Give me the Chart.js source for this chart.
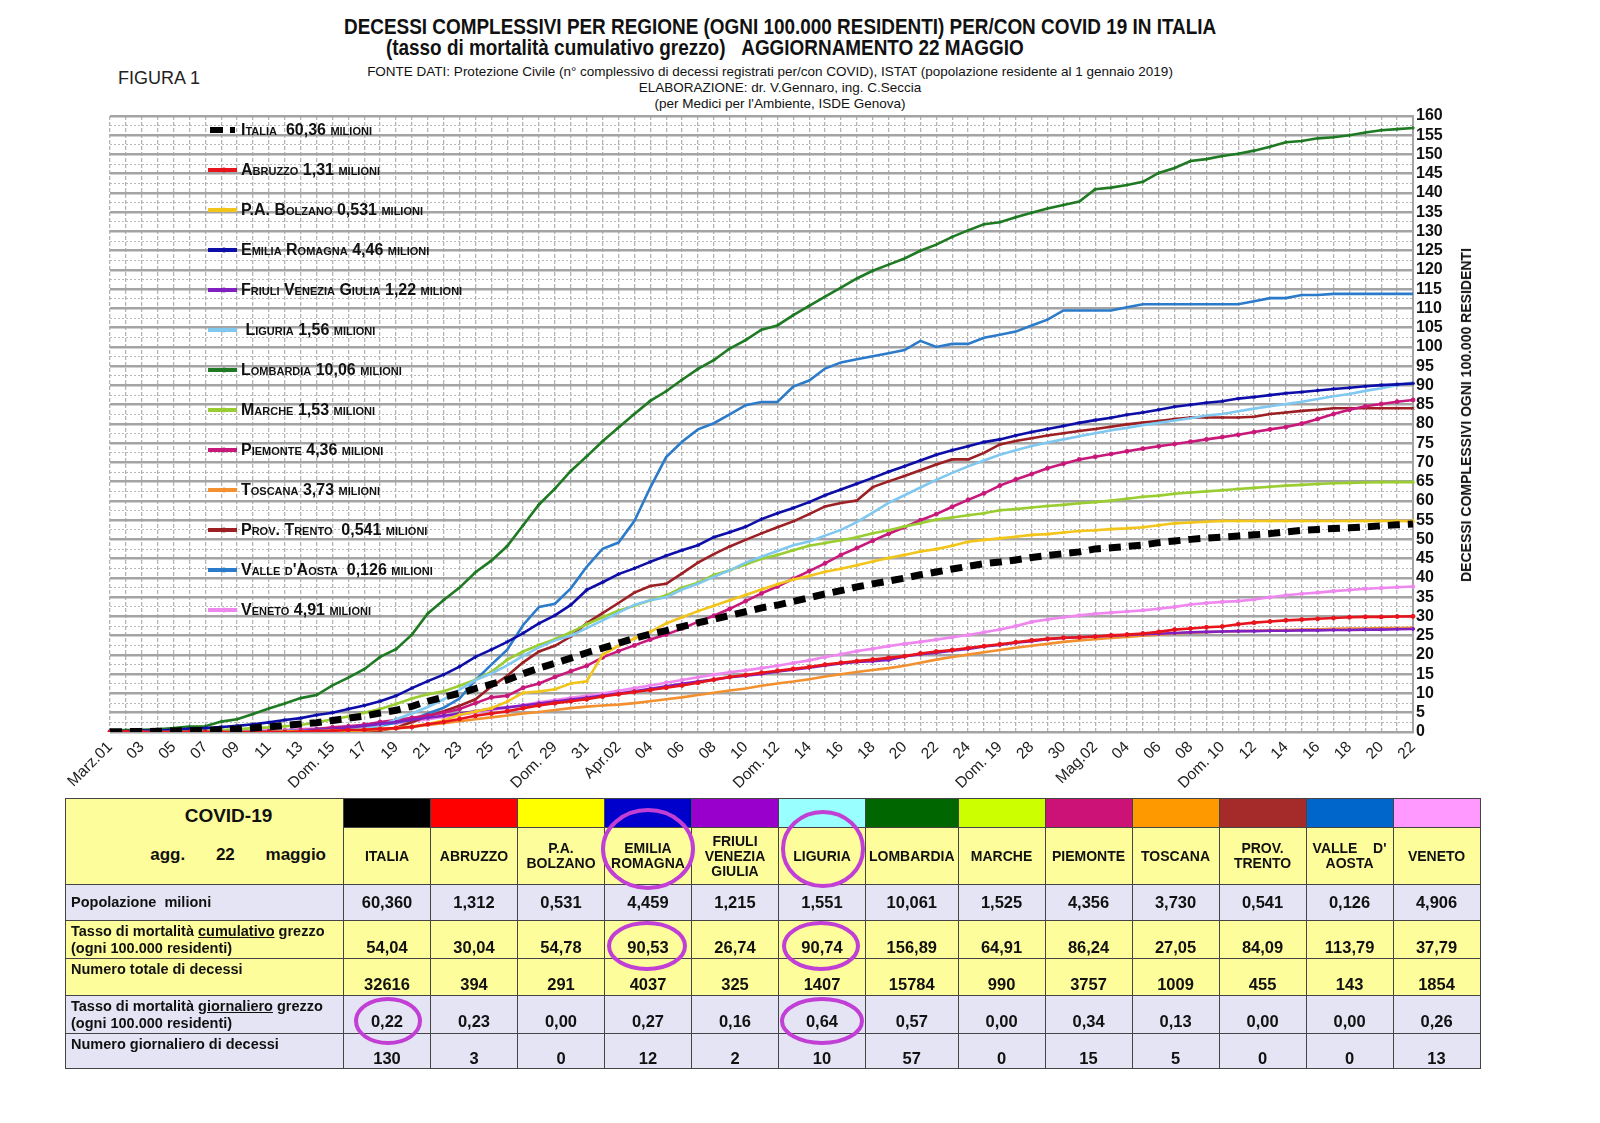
<!DOCTYPE html>
<html><head><meta charset="utf-8">
<script src="https://cdn.jsdelivr.net/npm/chart.js@4.4.1/dist/chart.umd.min.js"></script>
<style>
body{margin:0;width:1600px;height:1123px;position:relative;background:#fff;overflow:hidden;font-family:'Liberation Sans Narrow','Liberation Sans',Arial,sans-serif;}
.abs{position:absolute;}
.t1{left:0;width:1560px;text-align:center;font-weight:bold;font-size:22px;color:#111;}
.t1 span{display:inline-block;transform:scaleX(0.86);white-space:nowrap;}
.t2{left:0;width:1540px;text-align:center;font-size:13.5px;color:#111;}
#legend .it{position:absolute;left:208px;height:20px;display:flex;align-items:center;font-family:'Liberation Sans',Arial,sans-serif;font-weight:bold;font-variant:small-caps;font-size:16px;color:#111;white-space:pre;}
#legend svg{margin-right:3px;}
table{border-collapse:collapse;table-layout:fixed;}
td{border:1px solid #444;padding:0 3px;font-weight:bold;text-align:center;font-size:16.5px;color:#111;overflow:hidden;}
td.lab{text-align:left;font-size:14.5px;padding-left:5px;line-height:17px;}
td.hd{font-size:14px;line-height:15px;}
.yel{background:#fdfd9b;}
.lav{background:#e4e4f4;}
</style></head>
<body>
<div class="abs t1" style="top:14px;"><span>DECESSI COMPLESSIVI PER REGIONE (OGNI 100.000 RESIDENTI) PER/CON COVID 19 IN ITALIA</span></div>
<div class="abs t1" style="top:35px;left:0;width:1410px;"><span>(tasso di mortalità cumulativo grezzo)&nbsp;&nbsp;&nbsp;AGGIORNAMENTO 22 MAGGIO</span></div>
<div class="abs" style="left:118px;top:68px;font-size:18px;color:#222;">FIGURA 1</div>
<div class="abs t2" style="top:64px;">FONTE DATI: Protezione Civile (n° complessivo di decessi registrati per/con COVID), ISTAT (popolazione residente al 1 gennaio 2019)</div>
<div class="abs t2" style="top:80px;width:1560px;">ELABORAZIONE: dr. V.Gennaro, ing. C.Seccia</div>
<div class="abs t2" style="top:96px;width:1560px;">(per Medici per l'Ambiente, ISDE Genova)</div>

<div class="abs" style="left:30px;top:100px;width:1450px;height:710px;"><canvas id="c"></canvas></div>
<div id="legend"></div>
<div class="abs" style="left:1466px;top:415px;width:0;height:0;">
  <div style="position:absolute;transform:translate(-50%,-50%) rotate(-90deg);white-space:nowrap;font-family:'Liberation Sans',Arial,sans-serif;font-weight:bold;font-size:14px;color:#111;">DECESSI COMPLESSIVI OGNI 100.000 RESIDENTI</div>
</div>
<div class="abs" style="left:65px;top:798px;"><table id="tab"></table></div>
<svg class="abs" style="left:0;top:0;pointer-events:none;" width="1600" height="1123">
  <g fill="none" stroke="#c23fd6" stroke-width="4">
    <ellipse cx="648" cy="849" rx="45" ry="39"/>
    <ellipse cx="823" cy="849" rx="40" ry="37"/>
    <ellipse cx="647" cy="946" rx="38" ry="23"/>
    <ellipse cx="821" cy="946" rx="37" ry="23"/>
    <ellipse cx="388" cy="1021" rx="32" ry="22"/>
    <ellipse cx="822" cy="1021" rx="40" ry="22"/>
  </g>
</svg>
<script>
// ---------- DATA ----------
const categories = ['01/03','02/03','03/03','04/03','05/03','06/03','07/03','08/03','09/03','10/03',
'11/03','12/03','13/03','14/03','15/03','16/03','17/03','18/03','19/03','20/03',
'21/03','22/03','23/03','24/03','25/03','26/03','27/03','28/03','29/03','30/03',
'31/03','01/04','02/04','03/04','04/04','05/04','06/04','07/04','08/04','09/04',
'10/04','11/04','12/04','13/04','14/04','15/04','16/04','17/04','18/04','19/04',
'20/04','21/04','22/04','23/04','24/04','25/04','26/04','27/04','28/04','29/04',
'30/04','01/05','02/05','03/05','04/05','05/05','06/05','07/05','08/05','09/05',
'10/05','11/05','12/05','13/05','14/05','15/05','16/05','17/05','18/05','19/05',
'20/05','21/05','22/05'];
const tickLabels = ['Marz.01','03','05','07','09','11','13','Dom. 15','17','19','21','23','25','27','Dom. 29','31','Apr.02','04','06','08','10','Dom. 12','14','16','18','20','22','24','Dom. 19','28','30','Mag.02','04','06','08','Dom. 10','12','14','16','18','20','22'];
const yTicks = [0,5,10,15,20,25,30,35,40,45,50,55,60,65,70,75,80,85,90,95,100,105,110,115,120,125,130,135,140,145,150,155,160];

const italia = [0.06,0.09,0.13,0.18,0.25,0.33,0.39,0.61,0.77,1.05,
1.37,1.68,2.10,2.39,3.00,3.58,4.15,4.93,5.64,6.68,
7.99,9.07,10.07,11.30,12.43,13.53,15.13,16.61,17.86,19.20,
20.59,21.79,23.05,24.32,25.45,26.32,27.37,28.37,29.27,30.28,
31.23,32.25,32.97,33.90,34.90,35.86,36.73,37.68,38.48,39.20,
39.95,40.83,41.56,42.33,43.02,43.71,44.14,44.69,45.33,45.86,
46.33,46.78,47.56,47.85,48.18,48.57,49.18,49.63,50.03,50.36,
50.63,50.93,51.21,51.53,51.97,52.37,52.62,52.86,53.03,53.29,
53.56,53.82,54.04];
const abruzzo = [0,0,0,0,0,0,0,0,0,0,
0,0,0.1,0.2,0.3,0.5,0.6,0.8,1.0,1.3,
2.0,2.6,3.4,4.2,4.8,5.4,6.2,6.9,7.5,8.0,
8.5,9.2,9.8,10.4,10.9,11.5,12.1,12.8,13.6,14.3,
14.8,15.4,15.9,16.4,16.9,17.5,18.0,18.4,18.8,19.3,
19.7,20.4,20.9,21.3,21.8,22.3,22.8,23.3,23.8,24.2,
24.5,24.6,24.8,25.1,25.3,25.6,26.0,26.6,26.9,27.2,
27.4,28.0,28.4,28.7,29.0,29.2,29.4,29.6,29.8,29.9,
29.9,30.0,30.04];
const bolzano = [0,0,0,0,0,0,0,0,0,0,
0,0.2,0.2,0.2,0.4,0.4,0.6,0.8,1.1,1.5,
2.1,3.0,4.5,5.3,6.2,7.9,10.2,10.5,11.1,12.6,
13.2,20.1,22.4,24.3,26.0,28.2,29.8,31.4,32.8,34.2,
35.6,37.0,38.4,39.6,40.5,41.6,42.4,43.3,44.3,45.2,
46.0,46.9,47.5,48.4,49.4,49.9,50.3,50.7,51.2,51.4,
51.8,52.2,52.4,52.7,52.9,53.2,53.7,54.2,54.4,54.6,
54.8,54.8,54.8,54.8,54.8,54.8,54.8,54.8,54.8,54.8,
54.8,54.8,54.78];
const emilia = [0.2,0.2,0.4,0.4,0.6,0.8,1.0,1.3,1.6,2.0,
2.5,3.1,3.6,4.4,5.0,6.0,6.9,8.0,9.4,11.4,
13.2,14.9,17.0,19.5,21.4,23.4,25.7,28.2,30.3,33.0,
36.9,38.9,41.0,42.5,44.2,45.8,47.2,48.5,50.6,51.9,
53.3,55.3,56.8,58.2,59.7,61.5,63.0,64.5,66.0,67.6,
69.0,70.5,72.0,73.2,74.2,75.3,76.0,77.0,77.9,78.7,
79.5,80.3,81.0,81.6,82.4,83.0,83.7,84.5,85.0,85.5,
85.9,86.6,87.0,87.5,88.0,88.3,88.7,89.1,89.4,89.8,
90.1,90.3,90.53];
const friuli = [0,0,0,0,0,0,0,0,0,0,
0.1,0.2,0.3,0.5,0.8,1.2,1.6,2.1,2.6,3.2,
3.7,4.2,4.8,5.4,6.0,6.4,6.9,7.4,7.9,8.4,
8.9,9.5,10.0,10.6,11.2,11.9,12.5,13.1,13.6,14.2,
14.6,15.1,15.7,16.2,16.7,17.3,17.8,18.2,18.4,18.7,
19.6,20.2,20.6,21.1,21.6,22.2,22.6,23.2,23.6,24.1,
24.4,24.6,24.8,25.0,25.2,25.4,25.5,25.7,25.9,26.0,
26.1,26.2,26.2,26.3,26.3,26.4,26.4,26.5,26.5,26.6,
26.6,26.7,26.74];
const liguria = [0,0,0,0,0,0,0,0,0.1,0.1,
0.2,0.3,0.4,0.5,0.6,0.8,1.1,1.6,3.3,4.8,
6.5,8.5,11.0,13.5,15.2,17.3,19.8,22.0,23.8,25.0,
27.0,29.0,31.0,33.0,34.2,35.0,37.0,38.5,40.3,42.0,
44.0,45.5,47.0,48.5,49.5,51.0,52.5,54.5,57.0,59.5,
61.5,63.5,65.5,67.3,69.0,70.5,72.0,73.2,74.3,75.2,
76.0,76.8,77.6,78.4,79.0,79.7,80.3,80.9,81.5,82.2,
82.6,83.3,84.0,84.6,85.2,85.8,86.5,87.2,87.8,88.6,
89.3,90.1,90.74];
const lombardia = [0.4,0.5,0.6,0.7,1.0,1.4,1.5,2.7,3.3,4.7,
6.1,7.4,8.8,9.6,12.1,14.1,16.3,19.5,21.5,25.3,
30.8,34.3,37.5,41.5,44.5,48.3,53.7,59.1,63.2,67.8,
71.6,75.5,79.1,82.6,86.0,88.5,91.5,94.3,96.6,99.6,
101.8,104.5,105.6,108.3,110.7,113.1,115.4,117.8,119.8,121.4,
123.0,125.0,126.6,128.6,130.3,131.9,132.4,133.7,134.9,136.0,
136.9,137.8,141.0,141.4,142.1,142.9,145.2,146.5,148.3,148.8,
149.6,150.2,151.0,152.0,153.2,153.5,154.2,154.5,155.0,155.7,
156.3,156.6,156.89];
const marche = [0,0,0,0,0.1,0.2,0.3,0.5,0.7,1.0,
1.2,1.5,1.8,2.5,3.3,4.0,5.0,6.0,7.3,8.7,
9.8,10.6,12.0,13.6,15.6,18.8,20.9,22.6,24.1,25.9,
28.0,29.8,31.5,32.8,34.2,35.5,37.5,38.8,40.8,42.0,
43.5,45.0,46.0,47.2,48.4,49.1,49.8,50.6,51.6,52.4,
53.4,54.2,55.2,55.7,56.3,56.8,57.6,57.9,58.3,58.7,
59.0,59.4,59.7,60.1,60.6,61.1,61.4,61.9,62.2,62.5,
62.8,63.1,63.4,63.7,64.0,64.2,64.4,64.6,64.7,64.8,
64.9,64.91,64.91];
const piemonte = [0,0,0,0,0,0,0,0,0,0.1,
0.2,0.3,0.5,0.7,1.2,1.5,1.9,2.6,3.1,3.7,
4.3,5.0,6.0,7.5,9.0,9.4,11.5,12.6,14.3,15.8,
17.2,19.4,21.0,22.5,24.0,25.3,26.9,28.6,30.2,32.0,
34.0,36.0,37.8,39.8,41.8,43.8,46.0,47.8,49.7,51.5,
53.2,55.0,56.6,58.5,60.3,62.0,64.0,65.6,67.0,68.5,
69.7,70.8,71.5,72.2,72.9,73.6,74.2,74.8,75.4,76.0,
76.6,77.2,77.9,78.6,79.2,80.1,81.3,82.6,83.7,84.6,
85.2,85.8,86.24];
const toscana = [0,0,0,0,0,0,0,0,0,0,
0,0,0.1,0.1,0.2,0.3,0.4,0.6,0.9,1.3,
1.8,2.3,2.8,3.3,3.8,4.3,4.8,5.2,5.7,6.2,
6.6,6.9,7.1,7.5,8.0,8.5,9.0,9.6,10.2,10.8,
11.3,12.0,12.6,13.1,13.7,14.4,15.0,15.6,16.1,16.6,
17.2,18.0,18.8,19.5,20.1,20.7,21.3,21.9,22.4,22.9,
23.4,23.8,24.1,24.4,24.7,25.0,25.3,25.6,25.8,25.9,
26.1,26.2,26.3,26.4,26.5,26.6,26.7,26.8,26.9,26.9,
27.0,27.0,27.05];
const trento = [0,0,0,0,0,0,0,0,0,0,
0,0,0,0.2,0.2,0.2,0.2,0.4,1.1,2.6,
4.1,5.4,6.8,8.5,11.8,14.6,18.1,20.9,22.4,24.8,
28.3,30.9,33.5,36.2,37.9,38.5,41.2,44.0,46.2,48.2,
49.9,51.6,53.2,54.7,56.6,58.6,59.5,60.1,63.6,65.1,
66.5,68.0,69.5,70.8,70.8,72.5,74.7,75.6,76.3,77.0,
77.6,78.2,78.7,79.3,79.9,80.4,80.8,81.3,81.7,81.7,
81.7,81.7,81.9,82.6,83.0,83.4,83.7,84.1,84.1,84.1,
84.1,84.1,84.09];
const valle = [0,0,0,0,0,0,0,0,0,0,
0,0,0,0.8,0.8,0.8,0.8,1.6,2.4,3.2,
4.8,6.3,8.7,13.5,17.5,21.4,27.8,32.5,33.3,37.3,
42.9,47.6,49.2,54.8,63.5,71.4,75.4,78.6,80.2,82.5,
84.9,85.7,85.7,89.7,91.3,94.4,96.0,96.8,97.6,98.4,
99.2,101.6,100.0,100.8,100.8,102.4,103.2,104.0,105.6,107.1,
109.5,109.5,109.5,109.5,110.3,111.1,111.1,111.1,111.1,111.1,
111.1,111.1,111.9,112.7,112.7,113.5,113.5,113.8,113.8,113.8,
113.8,113.8,113.79];
const veneto = [0,0.02,0.04,0.06,0.08,0.1,0.12,0.2,0.3,0.35,
0.45,0.55,0.75,0.9,1.1,1.4,1.6,2.0,2.3,2.7,
3.3,3.9,4.4,5.1,5.7,6.3,7.0,7.7,8.3,8.9,
9.4,10.0,10.7,11.4,12.1,12.8,13.5,14.2,14.9,15.5,
16.0,16.6,17.2,17.9,18.6,19.5,20.2,21.0,21.6,22.3,
22.9,23.4,24.0,24.6,25.2,25.9,26.6,27.5,28.6,29.2,
29.8,30.3,30.7,31.0,31.3,31.6,32.0,32.5,33.1,33.5,
33.8,34.0,34.4,35.0,35.5,35.9,36.2,36.6,36.9,37.2,
37.4,37.6,37.79];

const seriesNames = ['Italia  60,36 milioni','Abruzzo 1,31 milioni','P.A. Bolzano 0,531 milioni','Emilia Romagna 4,46 milioni','Friuli Venezia Giulia 1,22 milioni',' Liguria 1,56 milioni','Lombardia 10,06 milioni','Marche 1,53 milioni','Piemonte 4,36 milioni','Toscana 3,73 milioni','Prov. Trento  0,541 milioni',"Valle d'Aosta  0,126 milioni",'Veneto 4,91 milioni'];
const seriesData = [italia,abruzzo,bolzano,emilia,friuli,liguria,lombardia,marche,piemonte,toscana,trento,valle,veneto];
const lineColors = ['#000000','#e8141c','#f2c51c','#0d0da8','#8020c0','#80c8f0','#1f7a23','#9acd32','#c8197a','#f39030','#9c1f24','#2b7bca','#ee88ee'];
const pointStyles = [false,'circle','triangle','star','rectRot','cross','cross','star','circle','line','crossRot','line','rect'];

// table data
const tabRegions = ['ITALIA','ABRUZZO','P.A.\nBOLZANO','EMILIA\nROMAGNA','FRIULI\nVENEZIA\nGIULIA','LIGURIA','LOMBARDIA','MARCHE','PIEMONTE','TOSCANA','PROV.\nTRENTO',"VALLE    D'\nAOSTA",'VENETO'];
const tabColors = ['#000000','#ff0000','#ffff00','#0000cc','#9900cc','#99ffff','#006600','#ccff00','#cc1177','#ff9900','#a52a2a','#0066cc','#ff99ff'];
const popolazione = ['60,360','1,312','0,531','4,459','1,215','1,551','10,061','1,525','4,356','3,730','0,541','0,126','4,906'];
const tassoCumulativo = ['54,04','30,04','54,78','90,53','26,74','90,74','156,89','64,91','86,24','27,05','84,09','113,79','37,79'];
const decessiTotali = ['32616','394','291','4037','325','1407','15784','990','3757','1009','455','143','1854'];
const tassoGiornaliero = ['0,22','0,23','0,00','0,27','0,16','0,64','0,57','0,00','0,34','0,13','0,00','0,00','0,26'];
const decessiGiornalieri = ['130','3','0','12','2','10','57','0','15','5','0','0','13'];

// ---------- CHART ----------
const NARROW = "'Liberation Sans Narrow','Liberation Sans',Arial,sans-serif";
const datasets = seriesData.map((d,i)=>({
  label: seriesNames[i],
  data: d,
  borderColor: lineColors[i],
  backgroundColor: lineColors[i],
  borderWidth: i===0 ? 7 : 2.6,
  borderDash: i===0 ? [12,8] : [],
  pointRadius: (i===0||i===5||i===11) ? 0 : 2,
  pointStyle: pointStyles[i] || 'circle',
  pointBorderWidth: 1,
  tension: 0,
  fill: false,
  order: i===0 ? 0 : 1
}));

new Chart(document.getElementById('c'), {
  type: 'line',
  data: { labels: categories, datasets },
  options: {
    responsive: true, maintainAspectRatio: false, animation: false,
    layout: { padding: { left: 80, top: 16, right: 0, bottom: 0 } },
    plugins: { legend: { display: false }, tooltip: { enabled: false } },
    scales: {
      x: {
        type: 'category',
        grid: { color: '#b4b4b4', lineWidth: 1.3, drawTicks: false },
        border: { display: false, dash: [4,2] },
        ticks: {
          autoSkip: false, maxRotation: 45, minRotation: 45, padding: 6,
          color: '#222', font: { family: NARROW, size: 15.5 },
          callback: (v, i) => (i % 2 === 0 ? tickLabels[i/2] : '')
        },
        afterFit: s => { s.height = 78; s.paddingLeft = 0; s.paddingRight = 0; }
      },
      yMinor: {
        type: 'linear', position: 'right', min: 0, max: 160,
        grid: { color: '#b8b8b8', lineWidth: 1, drawTicks: false },
        border: { display: false, dash: [2,2] },
        ticks: { display: false, stepSize: 2.5, autoSkip: false },
        afterFit: s => { s.width = 0; }
      },
      y: {
        type: 'linear', position: 'right', min: 0, max: 160,
        grid: { color: '#a4a4a4', lineWidth: 2.6, drawTicks: false },
        border: { display: true, color: '#a4a4a4', width: 2 },
        afterBuildTicks: s => { s.ticks = yTicks.map(v => ({ value: v })); },
        ticks: { autoSkip: false, padding: 3, color: '#111', font: { family: NARROW, size: 16, weight: 'bold' } },
        afterFit: s => { s.width = 67; }
      }
    }
  }
});

// ---------- LEGEND ----------
const lg = document.getElementById('legend');
seriesNames.forEach((n,i)=>{
  const d = document.createElement('div');
  d.className = 'it';
  d.style.top = (120 + 40*i) + 'px';
  const svg = i===0
    ? '<svg width="30" height="10"><rect x="2" y="2" width="13" height="6" fill="#000"/><rect x="22" y="2" width="5" height="6" fill="#000"/></svg>'
    : `<svg width="30" height="10"><line x1="0" y1="5" x2="29" y2="5" stroke="${lineColors[i]}" stroke-width="4"/><circle cx="16" cy="5" r="2.5" fill="${lineColors[i]}"/></svg>`;
  d.innerHTML = svg + '<span>' + n + '</span>';
  lg.appendChild(d);
});

// ---------- TABLE ----------
const tab = document.getElementById('tab');
let html = '<colgroup><col style="width:278px">' + tabRegions.map(()=>'<col style="width:87px">').join('') + '</colgroup>';
html += '<tr style="height:29px"><td rowspan="2" class="yel" style="vertical-align:top;padding-top:6px;"><div style="font-size:19px;text-align:center;padding-left:48px;">COVID-19</div><div style="font-size:17px;text-align:right;margin-top:18px;padding-right:14px;word-spacing:26px;">agg. 22 maggio</div></td>'
  + tabColors.map(c=>`<td style="background:${c};border-color:#444;"></td>`).join('') + '</tr>';
html += '<tr style="height:57px">' + tabRegions.map(r=>`<td class="yel hd">${r.replace(/\n/g,'<br>').replace(/ /g,'&nbsp;')}</td>`).join('') + '</tr>';
html += '<tr style="height:36px"><td class="lav lab">Popolazione&nbsp; milioni</td>' + popolazione.map(v=>`<td class="lav">${v}</td>`).join('') + '</tr>';
html += '<tr style="height:38px"><td class="yel lab">Tasso di mortalità <u>cumulativo</u> grezzo<br>(ogni 100.000 residenti)</td>' + tassoCumulativo.map(v=>`<td class="yel" style="vertical-align:bottom;padding-bottom:1px;">${v}</td>`).join('') + '</tr>';
html += '<tr style="height:37px"><td class="yel lab" style="vertical-align:top;padding-top:2px;">Numero totale di decessi</td>' + decessiTotali.map(v=>`<td class="yel" style="vertical-align:bottom;padding-bottom:1px;">${v}</td>`).join('') + '</tr>';
html += '<tr style="height:38px"><td class="lav lab">Tasso di mortalità <u>giornaliero</u> grezzo<br>(ogni 100.000 residenti)</td>' + tassoGiornaliero.map(v=>`<td class="lav" style="vertical-align:bottom;padding-bottom:2px;">${v}</td>`).join('') + '</tr>';
html += '<tr style="height:35px"><td class="lav lab" style="vertical-align:top;padding-top:2px;">Numero giornaliero di decessi</td>' + decessiGiornalieri.map(v=>`<td class="lav" style="vertical-align:bottom;padding-bottom:0px;">${v}</td>`).join('') + '</tr>';
tab.innerHTML = html;
</script>
</body></html>
